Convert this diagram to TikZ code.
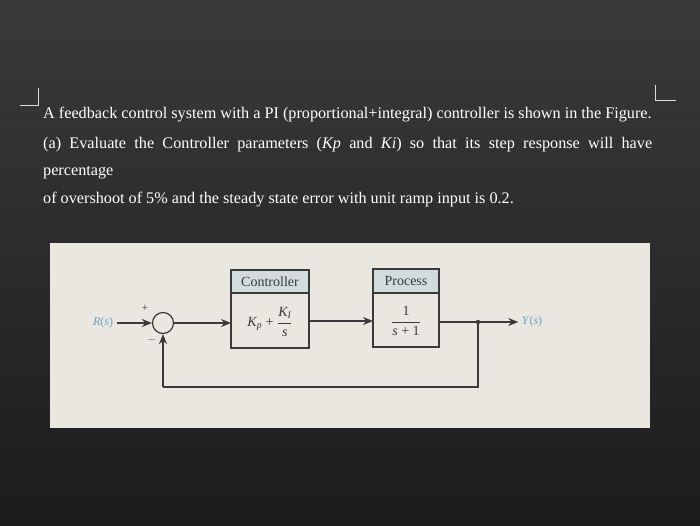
\documentclass[tikz,border=0pt]{standalone}
\usepackage{amsmath}
\usepackage{fontspec}
\setmainfont{Liberation Serif}
\usetikzlibrary{arrows.meta}
\definecolor{bgtop}{HTML}{3A3A3C}
\definecolor{bgbot}{HTML}{1C1C1E}
\definecolor{panel}{HTML}{EAE6E0}
\definecolor{hdr}{HTML}{D3DCDC}
\definecolor{lbl}{HTML}{6AA6C4}
\definecolor{ln}{HTML}{3A3A3A}
\tikzset{
  txt/.style={anchor=west,text=white,font=\fontsize{16.2}{18}\selectfont,inner sep=0},
  blk/.style={draw=ln,line width=1.2pt,fill=panel},
  lab/.style={font=\fontsize{14}{16}\selectfont,text=ln},
  sig/.style={draw=ln,line width=1.8pt,-{Stealth[length=10pt,width=8pt]}},
  wire/.style={draw=ln,line width=1.8pt},
  mk/.style={draw=white!85!black,line width=0.8pt}
}
\begin{document}
\begin{tikzpicture}[x=1pt,y=-1pt]
\useasboundingbox (0,0) rectangle (700,525);
\shade[top color=bgtop,bottom color=bgbot] (0,0) rectangle (700,525);
\draw[mk] (20,105) -- (38,105) -- (38,88);
\draw[mk] (655,85) -- (655,100) -- (676,100);
\node[txt] (l1) at (43,115) {A feedback control system with a PI (proportional+integral) controller is shown in the Figure.};
\node[txt] (l2) at (43,145) {\makebox[609pt][s]{(a) Evaluate the Controller parameters (\textit{Kp} and \textit{Ki}) so that its step response will have}};
\node[txt] (l3) at (43,173) {percentage};
\node[txt] (l4) at (43,200) {of overshoot of 5\% and the steady state error with unit ramp input is 0.2.};
\fill[panel] (50,243) rectangle (650,428);
% controller
\draw[blk] (231,270) rectangle (309,348);
\fill[hdr] (231.5,270.5) rectangle (308.5,293);
\draw[blk,fill=none] (231,270) rectangle (309,348);
\draw[ln,line width=1.2pt] (231,293) -- (309,293);
\node[lab] (ch) at (270,282) {Controller};
\node[lab] (cf) at (270,322) {\textit{K\textsubscript{p}} + $\dfrac{\textit{K\textsubscript{I}}}{\textit{s}}$};
% process
\draw[blk] (373,269) rectangle (439,347);
\fill[hdr] (373.5,269.5) rectangle (438.5,293);
\draw[blk,fill=none] (373,269) rectangle (439,347);
\draw[ln,line width=1.2pt] (373,293) -- (439,293);
\node[lab] (ph) at (406,281) {Process};
\node[lab] (pf) at (406,321) {$\dfrac{\text{1}}{\textit{s}\text{ + 1}}$};
% sum
\node[draw=ln,line width=1.2pt,circle,minimum size=21pt,inner sep=0] (sum) at (163,323) {};
\node[font=\fontsize{12}{14}\selectfont,text=lbl] (R) at (103,323) {\textit{R}(\textit{s})};
\node[font=\fontsize{12}{14}\selectfont,text=lbl] (Y) at (532,322) {\textit{Y}(\textit{s})};
\node[font=\fontsize{11}{12}\selectfont,text=ln] (pl) at (145,308) {+};
\node[font=\fontsize{11}{12}\selectfont,text=ln] (mi) at (152,340) {$-$};
\coordinate (cin) at (231,323);
\coordinate (cout) at (309,321);
\coordinate (pin) at (373,321);
\coordinate (pout) at (439,322);
\coordinate (br) at (478,322);
\coordinate (fb1) at (478,387);
\coordinate (fb2) at (163,387);
\draw[sig] (R) -- (sum);
\draw[sig] (sum) -- (cin);
\draw[sig] (cout) -- (pin);
\draw[sig] (pout) -- (Y);
\draw[wire] (br) -- (fb1) -- (fb2);
\draw[sig] (fb2) -- (sum);
\fill[ln] (br) circle (2.2pt);
\end{tikzpicture}
\end{document}
